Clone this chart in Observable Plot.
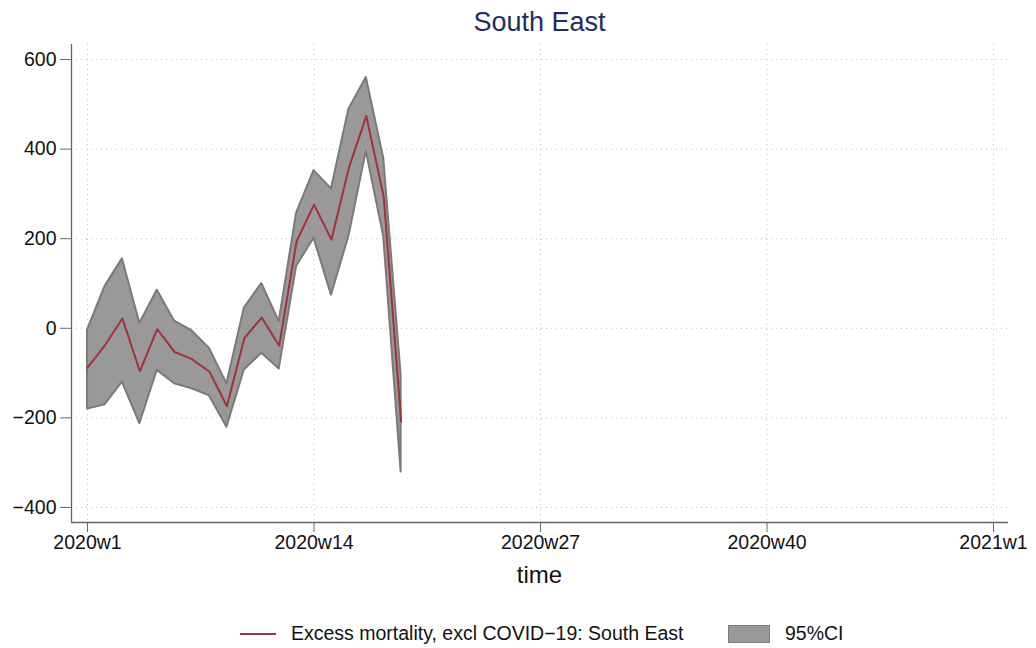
<!DOCTYPE html>
<html>
<head>
<meta charset="utf-8">
<script src="https://cdn.jsdelivr.net/npm/d3@7"></script>
<script src="https://cdn.jsdelivr.net/npm/@observablehq/plot@0.6"></script>
<style>
  html, body { margin: 0; padding: 0; background: #fff; }
  #wrap { position: relative; width: 1036px; height: 648px; font-family: "Liberation Sans", Arial, sans-serif; }
  #title { position: absolute; left: 71px; width: 937px; top: 9px; line-height: 27px; text-align: center; font-size: 27px; color: #1f2d5a; }
  #xlabel { position: absolute; left: 71px; width: 937px; top: 563px; line-height: 24px; text-align: center; font-size: 24px; color: #111; }
  #legend { position: absolute; top: 623px; left: 0; width: 1036px; font-size: 19.5px; line-height: 20px; color: #111; }
  .li { position: absolute; top: 0; white-space: nowrap; }
  svg { position: absolute; left: 0; top: 0; }
</style>
</head>
<body>
<div id="wrap">
  <div id="chart"></div>
  <div id="title">South East</div>
  <div id="xlabel">time</div>
  <div id="legend">
    <div class="li" style="left:240px;"><span style="display:inline-block;width:36px;height:2px;background:#a3313d;vertical-align:middle;margin-right:15px;position:relative;top:-1px;"></span>Excess mortality, excl COVID−19: South East</div>
    <div class="li" style="left:728px;"><span style="display:inline-block;width:42px;height:18px;background:#999;border:1.5px solid #7a7a7a;box-sizing:border-box;vertical-align:middle;margin-right:15px;position:relative;top:-1px;"></span>95%CI</div>
  </div>
</div>
<script>
// week index (0 = 2020w1)
const weeks = [0,1,2,3,4,5,6,7,8,9,10,11,12,13,14,15,16,17,18];
const excess = [-88,-38,22,-96,-2,-53,-69,-97,-174,-22,24,-39,194,276,198,358,474,294,-208];
const ciLow  = [-180,-171,-120,-213,-94,-124,-135,-151,-221,-93,-56,-91,138,201,74,205,395,205,-321];
const ciHigh = [-4,93,155,11,85,16,-6,-45,-124,45,100,15,257,352,311,489,560,380,-105];
const xTicks = [0,13,26,39,52];
const xTickLabels = ["2020w1","2020w14","2020w27","2020w40","2021w1"];
const yTicks = [-400,-200,0,200,400,600];

const data = weeks.map((w,i)=>({w, y: excess[i], lo: ciLow[i], hi: ciHigh[i]}));
const xDom = [-0.92, 52.86];
const yDom = [-433.6, 633.6];

const chart = Plot.plot({
  width: 1036,
  height: 648,
  marginLeft: 71,
  marginRight: 28,
  marginTop: 44,
  marginBottom: 126,
  style: {fontFamily: "'Liberation Sans', Arial, sans-serif", fontSize: "19.5px", color: "#111", background: "transparent"},
  x: {domain: xDom},
  y: {domain: yDom},
  marks: [
    Plot.gridY(yTicks, {stroke: "#bbbbbb", strokeOpacity: 1, strokeDasharray: "1,4", strokeWidth: 1}),
    Plot.gridX(xTicks, {stroke: "#bbbbbb", strokeOpacity: 1, strokeDasharray: "1,4", strokeWidth: 1}),
    Plot.areaY(data, {x: "w", y1: "lo", y2: "hi", fill: "#999999", stroke: "#7a7a7a", strokeWidth: 2, curve: "linear"}),
    Plot.lineY(data, {x: "w", y: "y", stroke: "#a3313d", strokeWidth: 2}),
    Plot.ruleX([xDom[0]], {stroke: "#666", strokeWidth: 1.3}),
    Plot.ruleY([yDom[0]], {stroke: "#666", strokeWidth: 1.3}),
    Plot.axisY(yTicks, {tickSize: 11, tickPadding: 4, fontSize: 19.5, label: null, tickFormat: d => d < 0 ? "−" + Math.abs(d) : String(d), stroke: "#666"}),
    Plot.axisX(xTicks, {tickSize: 10, tickPadding: 3, fontSize: 19.5, label: null, tickFormat: d => xTickLabels[xTicks.indexOf(d)], stroke: "#666"})
  ]
});
document.getElementById("chart").appendChild(chart);
</script>
</body>
</html>
